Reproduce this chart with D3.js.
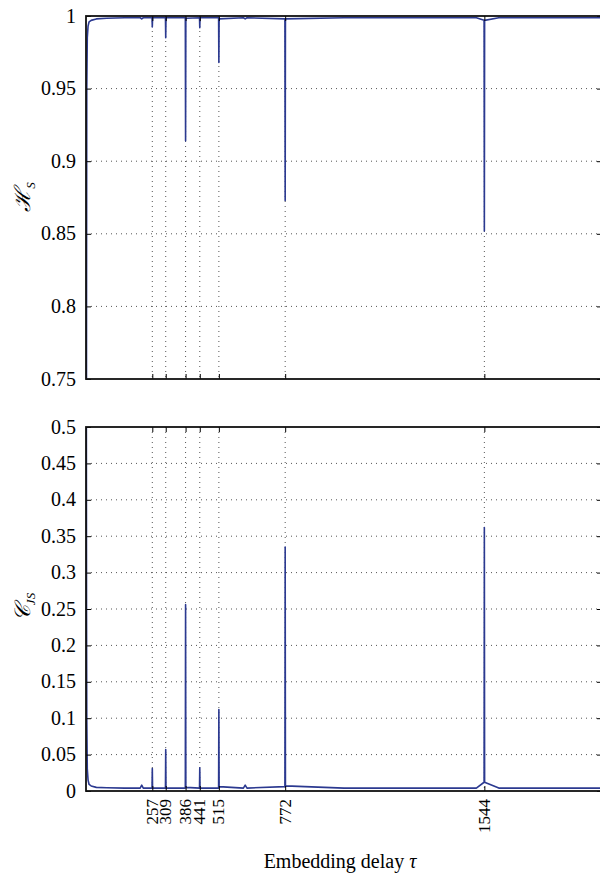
<!DOCTYPE html>
<html>
<head>
<meta charset="utf-8">
<script src="https://cdn.jsdelivr.net/npm/d3@7"></script>
<style>
  body { margin: 0; background: #fff; }
  svg { display: block; font-family: "Liberation Serif", "Times New Roman", serif; }
  .grid line { stroke: #555; stroke-width: 1; stroke-dasharray: 1,4; }
  .axis path, .axis line { stroke: #000; }
</style>
</head>
<body>
<svg id="chart" width="600" height="876"></svg>
<script>
// embedding delays where the curves were sampled
const tau = [1, 2, 3, 5, 8, 12, 20, 40, 80, 150, 210, 216, 222, 256, 257, 258,
  308, 309, 310, 385, 386, 387, 440, 441, 442, 514, 515, 516, 610, 617, 624,
  771, 772, 773, 1000, 1300, 1513, 1543, 1544, 1545, 1600, 1800, 2000];

// normalized permutation entropy H_S
const entropy = [0.5, 0.8, 0.95, 0.985, 0.993, 0.996, 0.997, 0.998, 0.9985, 0.9988, 0.9988, 0.998, 0.9988, 0.9988, 0.9925, 0.9988,
  0.9988, 0.985, 0.9988, 0.9988, 0.914, 0.9985, 0.9988, 0.992, 0.9988, 0.9988, 0.968, 0.998, 0.9988, 0.998, 0.9988,
  0.998, 0.873, 0.998, 0.9988, 0.9988, 0.9988, 0.997, 0.852, 0.997, 0.9988, 0.9988, 0.9988];

// statistical complexity C_JS
const complexity = [0.7, 0.25, 0.1, 0.03, 0.015, 0.009, 0.007, 0.005, 0.0045, 0.004, 0.004, 0.008, 0.004, 0.004, 0.031, 0.004,
  0.004, 0.057, 0.004, 0.004, 0.256, 0.005, 0.004, 0.032, 0.004, 0.004, 0.112, 0.006, 0.004, 0.008, 0.004,
  0.006, 0.335, 0.007, 0.004, 0.004, 0.004, 0.012, 0.362, 0.012, 0.004, 0.004, 0.004];

const xTicks = [257, 309, 386, 441, 515, 772, 1544];
const hTicks = [0.75, 0.8, 0.85, 0.9, 0.95, 1];
const cTicks = [0, 0.05, 0.1, 0.15, 0.2, 0.25, 0.3, 0.35, 0.4, 0.45, 0.5];

const svg = d3.select('#chart');
const lineColor = '#2b3990';

const x = d3.scaleLinear().domain([0, 2000]).range([86, 602]);
const xR = x.range();

const panels = [
  { id: 'top', values: entropy, domain: [0.75, 1], range: [379, 16], ticks: hTicks },
  { id: 'bot', values: complexity, domain: [0, 0.5], range: [791, 427], ticks: cTicks }
];

panels.forEach(p => {
  const y = d3.scaleLinear().domain(p.domain).range(p.range);
  const top = p.range[1], bottom = p.range[0];
  const g = svg.append('g');

  g.append('clipPath').attr('id', 'clip-' + p.id)
    .append('rect')
    .attr('x', xR[0]).attr('y', top)
    .attr('width', xR[1] - xR[0]).attr('height', bottom - top);

  // dotted grid
  const grid = g.append('g').attr('class', 'grid');
  grid.selectAll('.hg')
    .data(p.ticks.filter(t => t !== p.domain[0] && t !== p.domain[1]))
    .enter().append('line')
    .attr('x1', xR[0]).attr('x2', xR[1])
    .attr('y1', d => y(d)).attr('y2', d => y(d));
  grid.selectAll('.vg')
    .data(xTicks)
    .enter().append('line')
    .attr('x1', d => x(d)).attr('x2', d => x(d))
    .attr('y1', top).attr('y2', bottom);

  // the curve
  const line = d3.line()
    .x((d, i) => x(tau[i]))
    .y(d => y(d));
  g.append('path')
    .datum(p.values)
    .attr('clip-path', 'url(#clip-' + p.id + ')')
    .attr('fill', 'none')
    .attr('stroke', lineColor)
    .attr('stroke-width', 1.6)
    .attr('stroke-linejoin', 'round')
    .attr('d', line);

  // inward ticks on all four sides
  const ya = g.append('g').attr('class', 'axis')
    .attr('transform', `translate(${xR[0]},0)`)
    .call(d3.axisLeft(y).tickValues(p.ticks).tickSize(-5).tickFormat(''));
  ya.select('.domain').remove();
  const yr = g.append('g').attr('class', 'axis')
    .attr('transform', `translate(${xR[1]},0)`)
    .call(d3.axisRight(y).tickValues(p.ticks).tickSize(-5).tickFormat(''));
  yr.select('.domain').remove();
  const xb = g.append('g').attr('class', 'axis')
    .attr('transform', `translate(0,${bottom})`)
    .call(d3.axisBottom(x).tickValues(xTicks).tickSize(-5).tickFormat(''));
  xb.select('.domain').remove();
  const xt = g.append('g').attr('class', 'axis')
    .attr('transform', `translate(0,${top})`)
    .call(d3.axisTop(x).tickValues(xTicks).tickSize(-5).tickFormat(''));
  xt.select('.domain').remove();

  // y tick labels
  g.append('g').selectAll('text')
    .data(p.ticks)
    .enter().append('text')
    .attr('x', xR[0] - 10)
    .attr('y', d => y(d))
    .attr('dy', '0.33em')
    .attr('text-anchor', 'end')
    .style('font-size', '20px')
    .text(d => String(+d.toFixed(2)));

  // box
  g.append('rect')
    .attr('x', xR[0]).attr('y', top)
    .attr('width', xR[1] - xR[0]).attr('height', bottom - top)
    .attr('fill', 'none')
    .attr('stroke', '#111')
    .attr('stroke-width', 1.8);
});

// rotated tick labels under the lower panel
svg.append('g').selectAll('text')
  .data(xTicks)
  .enter().append('text')
  .attr('transform', d => `translate(${x(d)},799) rotate(-90)`)
  .attr('text-anchor', 'end')
  .attr('dy', '0.33em')
  .style('font-size', '17px')
  .text(d => d);

// axis titles
svg.append('text')
  .attr('x', 340).attr('y', 868)
  .attr('text-anchor', 'middle')
  .style('font-size', '20px')
  .text('Embedding delay ')
  .append('tspan').style('font-style', 'italic').text('τ');

const hLabel = svg.append('text')
  .attr('transform', 'translate(30,197) rotate(-90)')
  .attr('text-anchor', 'middle')
  .style('font-size', '22px');
hLabel.append('tspan').style('font-style', 'italic').text('ℋ');
hLabel.append('tspan').attr('dy', 5).style('font-size', '13px').style('font-style', 'italic').text('S');

const cLabel = svg.append('text')
  .attr('transform', 'translate(30,607) rotate(-90)')
  .attr('text-anchor', 'middle')
  .style('font-size', '22px');
cLabel.append('tspan').style('font-style', 'italic').text('𝒞');
cLabel.append('tspan').attr('dy', 5).style('font-size', '13px').style('font-style', 'italic').text('JS');
</script>
</body>
</html>
